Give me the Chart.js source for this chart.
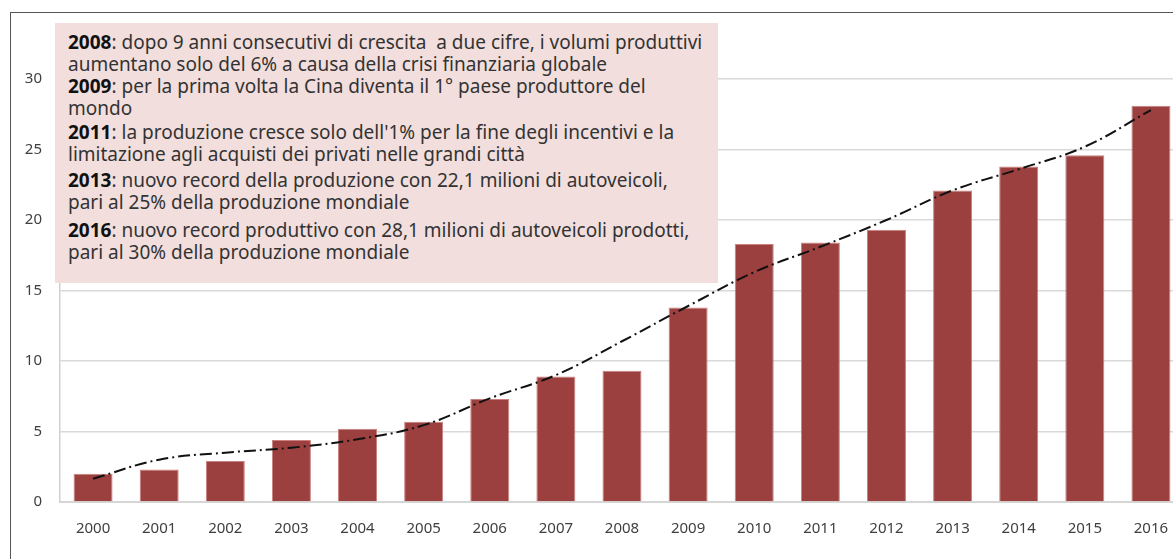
<!DOCTYPE html>
<html>
<head>
<meta charset="utf-8">
<script src="https://cdn.jsdelivr.net/npm/chart.js@4"></script>
<style>
  html, body { margin: 0; padding: 0; background: #fff; overflow: hidden; }
  #wrap { position: relative; width: 1173px; height: 559px; overflow: hidden; }
  #frame { position: absolute; left: 10px; top: 12px; width: 1200px; height: 600px;
           border-top: 1.5px solid #555; border-left: 1.5px solid #555; }
  #chartBox { position: absolute; left: 0; top: 0; width: 1200px; height: 559px; }
  #note { position: absolute; left: 55px; top: 23px; width: 663px; height: 260px;
          background: #f2dedd; font-family: "Noto Sans", sans-serif;
          font-size: 19px; color: #333; }
  #note .p { position: absolute; left: 13px; line-height: 22px; white-space: nowrap; }
  #note b { color: #111; }
</style>
</head>
<body>
<div id="wrap">
  <div id="frame"></div>
  <div id="chartBox"><canvas id="prodChart"></canvas></div>
  <div id="note">
    <div class="p" style="top:8px"><b>2008</b>: dopo 9 anni consecutivi di crescita&nbsp; a due cifre, i volumi produttivi<br>aumentano solo del 6% a causa della crisi finanziaria globale</div>
    <div class="p" style="top:52px"><b>2009</b>: per la prima volta la Cina diventa il 1° paese produttore del<br>mondo</div>
    <div class="p" style="top:98px"><b>2011</b>: la produzione cresce solo dell'1% per la fine degli incentivi e la<br>limitazione agli acquisti dei privati nelle grandi città</div>
    <div class="p" style="top:146px"><b>2013</b>: nuovo record della produzione con 22,1 milioni di autoveicoli,<br>pari al 25% della produzione mondiale</div>
    <div class="p" style="top:196px"><b>2016</b>: nuovo record produttivo con 28,1 milioni di autoveicoli prodotti,<br>pari al 30% della produzione mondiale</div>
  </div>
</div>
<script>
// values (milioni di autoveicoli)
const years = ['2000', '2001', '2002', '2003', '2004', '2005', '2006', '2007', '2008',
               '2009', '2010', '2011', '2012', '2013', '2014', '2015', '2016'];
const production = [2.0, 2.3, 2.9, 4.4, 5.2, 5.7, 7.3, 8.9, 9.3,
                    13.8, 18.3, 18.4, 19.3, 22.1, 23.8, 24.6, 28.1];
const trend = [1.65, 3.0, 3.5, 3.85, 4.45, 5.45, 7.35, 9.0, 11.4,
               13.9, 16.3, 18.1, 20.0, 22.1, 23.6, 25.2, 27.8];
const yMax = 30;
const yStep = 5;

document.addEventListener("DOMContentLoaded", function() {
    var ctx = document.getElementById('prodChart').getContext('2d');
    new Chart(ctx, {
        type: 'bar',
        data: {
            labels: years,
            datasets: [{
                type: 'line',
                label: 'Tendenza',
                data: trend,
                borderColor: '#111',
                borderWidth: 2,
                borderDash: [12, 4, 2, 4],
                pointRadius: 0,
                tension: 0.4,
                fill: false,
                order: 0
            }, {
                label: 'Produzione',
                data: production,
                backgroundColor: '#9b403e',
                borderColor: '#c9807e',
                borderWidth: 1,
                barPercentage: 0.59,
                categoryPercentage: 1,
                order: 1
            }]
        },
        options: {
            responsive: true,
            maintainAspectRatio: false,
            animation: false,
            layout: { padding: { left: 0, right: 16, top: 79, bottom: 0 } },
            plugins: { legend: { display: false }, tooltip: { enabled: false } },
            scales: {
                x: {
                    afterFit: function(scale) { scale.height = 57; },
                    grid: { display: false },
                    border: { color: '#d6d6d6', width: 2 },
                    ticks: {
                        color: '#404040',
                        padding: 10,
                        font: { family: '"Noto Sans", sans-serif', size: 15 }
                    }
                },
                y: {
                    min: 0,
                    max: yMax,
                    afterFit: function(scale) { scale.width = 60; },
                    grid: { color: '#d9d9d9', lineWidth: 1.5, drawTicks: false },
                    border: { color: '#d0d0d0', width: 1.5 },
                    ticks: {
                        stepSize: yStep,
                        color: '#404040',
                        padding: 18,
                        font: { family: '"Noto Sans", sans-serif', size: 15 }
                    }
                }
            }
        }
    });
});
</script>
</body>
</html>
